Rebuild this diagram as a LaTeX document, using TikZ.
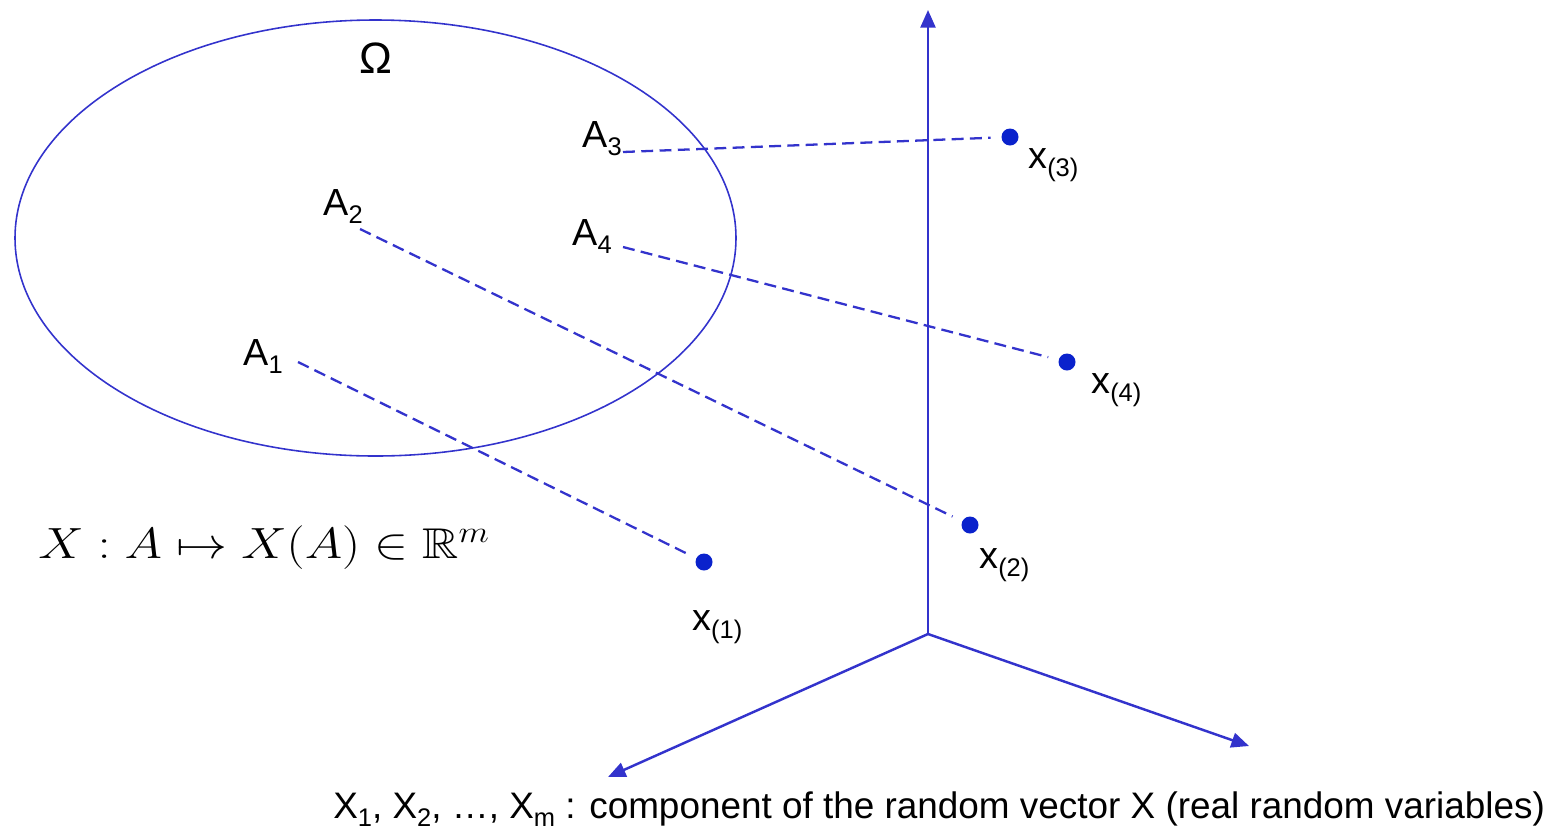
\documentclass[tikz,border=0pt]{standalone}
\usepackage{fontspec}
\usepackage{amssymb}
\setmainfont{Liberation Sans}
\usetikzlibrary{arrows.meta}
\definecolor{axisblue}{HTML}{3333CC}
\definecolor{dotblue}{HTML}{0A22CC}
\newcommand\lsub[1]{\raisebox{-0.45ex}{\fontsize{14.5}{15}\selectfont #1}}
\tikzset{
  lbl/.style={anchor=base west,inner sep=0pt,font=\fontsize{21.5}{24}\selectfont},
  pt/.style={circle,fill=dotblue,inner sep=0pt,minimum size=0.34cm},
  axis/.style={axisblue,line width=1.4pt,-{Triangle[length=10pt,width=8.5pt]}},
  link/.style={axisblue,line width=1.3pt,dash pattern=on 6.8pt off 3.6pt,shorten >=6pt},
}
\begin{document}
\begin{tikzpicture}[x=0.02cm,y=-0.02cm]
\useasboundingbox (0,0) rectangle (1568,836);
% set Omega
\draw[axisblue,line width=0.9pt] (375.5,238) ellipse [x radius=360.5, y radius=218];
\node[inner sep=0pt,font=\fontsize{25}{28}\selectfont] (omega) at (376,58) {Ω};
% axes
\coordinate (O) at (928,634);
\coordinate (top) at (928,10);
\coordinate (left) at (608,777);
\coordinate (right) at (1249,746);
\draw[axis] (O) -- (top);
\draw[axis] (O) -- (left);
\draw[axis] (O) -- (right);
% labels A
\node[lbl] (A3) at (582,147) {A\lsub{3}};
\node[lbl] (A4) at (572,245) {A\lsub{4}};
\node[lbl] (A2) at (323,215) {A\lsub{2}};
\node[lbl] (A1) at (243,365) {A\lsub{1}};
\coordinate (s3) at (623,152);
\coordinate (s4) at (623,247);
\coordinate (s2) at (360,229);
\coordinate (s1) at (298,362);
% points
\node[pt] (p3) at (1010,137) {};
\node[pt] (p4) at (1067,362) {};
\node[pt] (p2) at (970,525) {};
\node[pt] (p1) at (704,562) {};
\node[lbl] (x3) at (1028,168) {x\lsub{(3)}};
\node[lbl] (x4) at (1091,393) {x\lsub{(4)}};
\node[lbl] (x2) at (979,568) {x\lsub{(2)}};
\node[lbl] (x1) at (692,630) {x\lsub{(1)}};
% links
\draw[link] (s3) -- (p3);
\draw[link] (s4) -- (p4);
\draw[link] (s2) -- (p2);
\draw[link] (s1) -- (p1);
% formula
\node[anchor=base west,inner sep=0pt,font=\fontsize{24.5}{28}\selectfont] (f) at (38,558) {\scalebox{1.165}[1]{$X : A \mapsto X(A) \in \mathbb{R}^m$}};
% caption
\node[lbl,font=\fontsize{21}{24}\selectfont] (cap) at (333,818) {X\lsub{1}, X\lsub{2}, …, X\lsub{m} : component of the random vector X (real random variables)};
\end{tikzpicture}
\end{document}
